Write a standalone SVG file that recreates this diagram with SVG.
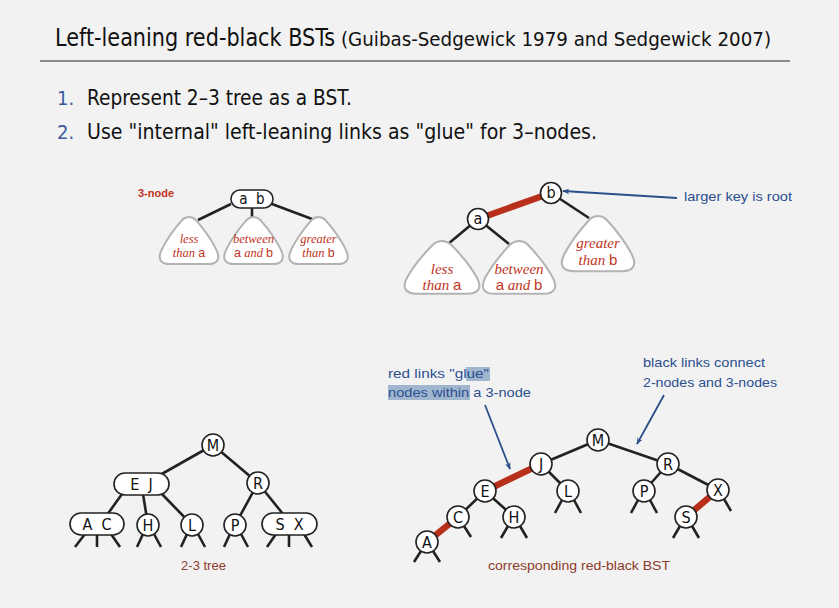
<svg xmlns="http://www.w3.org/2000/svg" width="839" height="608" viewBox="0 0 839 608">
<style>
.bg{fill:#f2f2f2}
.hd{font-family:"DejaVu Sans Condensed","Liberation Sans Narrow","Liberation Sans",sans-serif;fill:#111}
.num{font-family:"DejaVu Sans Condensed","Liberation Sans",sans-serif;fill:#3a5a9a}
.ann{font-family:"Liberation Sans","DejaVu Sans",sans-serif;font-size:13px;fill:#2c4f8f}
.cap{font-family:"Liberation Sans","DejaVu Sans",sans-serif;font-size:13px;fill:#8e3b2a;text-anchor:middle}
.nd circle,.nd rect{fill:#fff;stroke:#222;stroke-width:1.6}
.nd text{font-family:"DejaVu Sans Condensed","DejaVu Sans","Liberation Sans",sans-serif;font-size:16px;fill:#111;text-anchor:middle;white-space:pre}
.blk{stroke:#222;stroke-width:2.6;fill:none}
.red{stroke:#b8301a;stroke-width:6.5;fill:none}
.arr{stroke:#2b4f8a;stroke-width:1.8;fill:none;marker-end:url(#ah)}
.tri{fill:#fff;stroke:#b3b3b3;stroke-width:2}
.tt{font-family:"Liberation Serif","DejaVu Serif",serif;font-style:italic;fill:#c0341e;text-anchor:middle}
.ts{font-family:"Liberation Sans","DejaVu Sans",sans-serif;font-style:normal}
.hl{fill:#9fb6ce}
</style>
<defs>
<marker id="ah" viewBox="0 0 10 10" refX="9" refY="5" markerWidth="7" markerHeight="7" orient="auto" markerUnits="userSpaceOnUse">
<path d="M0,1 L10,5 L0,9 L3,5 Z" fill="#2b4f8a"/>
</marker>
<path id="tp" vector-effect="non-scaling-stroke" d="M-7,3 C-3,-1 3,-1 7,3 C15,12 23,23 28,33 C33,43 29,48 20,48 L-20,48 C-29,48 -33,43 -28,33 C-23,23 -15,12 -7,3 Z"/>
</defs>
<rect class="bg" x="0" y="0" width="839" height="608"/>

<g id="title">
<text class="hd" x="55" y="46" font-size="24" textLength="280" lengthAdjust="spacingAndGlyphs">Left-leaning red-black BSTs</text>
<text class="hd" x="341" y="46" font-size="19" textLength="430" lengthAdjust="spacingAndGlyphs">(Guibas-Sedgewick 1979 and Sedgewick 2007)</text>
<line x1="40" y1="61" x2="790" y2="61" stroke="#222" stroke-width="1.2"/>
</g>
<g id="list">
<text class="num" x="57" y="105" font-size="20">1.</text>
<text class="hd" x="87" y="105" font-size="20.5" textLength="265" lengthAdjust="spacingAndGlyphs">Represent 2–3 tree as a BST.</text>
<text class="num" x="57" y="139" font-size="20">2.</text>
<text class="hd" x="87" y="139" font-size="20.5" textLength="510" lengthAdjust="spacingAndGlyphs">Use "internal" left-leaning links as "glue" for 3–nodes.</text>
</g>

<g id="connectors">
<line class="blk" x1="231" y1="204" x2="198" y2="220"/>
<line class="blk" x1="252" y1="208" x2="252" y2="218"/>
<line class="blk" x1="272" y1="204" x2="312" y2="219"/>
<line class="blk" x1="478" y1="219" x2="448" y2="244"/>
<line class="blk" x1="478" y1="219" x2="509" y2="244"/>
<line class="blk" x1="551" y1="193" x2="589" y2="218"/>
<line class="red" x1="478" y1="219" x2="551" y2="193"/>
<line class="blk" x1="213" y1="445" x2="160" y2="475"/>
<line class="blk" x1="213" y1="445" x2="258" y2="483"/>
<line class="blk" x1="122" y1="494" x2="107" y2="515"/>
<line class="blk" x1="143" y1="494" x2="148" y2="525"/>
<line class="blk" x1="160" y1="492" x2="192" y2="525"/>
<line class="blk" x1="258" y1="483" x2="235" y2="525"/>
<line class="blk" x1="258" y1="483" x2="283" y2="514"/>
<path class="blk" d="M85,534 L75,547 M97,534 L97,547 M111,534 L120,547"/>
<path class="blk" d="M143,534 L137,547 M154,534 L161,547"/>
<path class="blk" d="M187,534 L181,547 M198,534 L205,547"/>
<path class="blk" d="M230,534 L224,547 M241,534 L248,547"/>
<path class="blk" d="M276,534 L267,547 M289,534 L289,547 M304,534 L312,547"/>
<line class="blk" x1="598" y1="440" x2="541" y2="464"/>
<line class="blk" x1="598" y1="440" x2="668" y2="464"/>
<line class="blk" x1="541" y1="464" x2="568" y2="491"/>
<line class="blk" x1="485" y1="491" x2="458" y2="517"/>
<line class="blk" x1="485" y1="491" x2="514" y2="517"/>
<line class="blk" x1="668" y1="464" x2="644" y2="491"/>
<line class="blk" x1="668" y1="464" x2="718" y2="490"/>
<line class="red" x1="541" y1="464" x2="485" y2="491"/>
<line class="red" x1="458" y1="517" x2="427" y2="542"/>
<line class="red" x1="718" y1="490" x2="686" y2="517"/>
<path class="blk" d="M421,551 L414,562 M433,551 L440,562"/>
<path class="blk" d="M464,526 L471,537"/>
<path class="blk" d="M508,526 L501,538 M520,526 L527,538"/>
<path class="blk" d="M562,500 L555,513 M574,500 L581,513"/>
<path class="blk" d="M638,500 L631,513 M650,500 L657,513"/>
<path class="blk" d="M680,526 L673,538 M692,526 L699,538"/>
<path class="blk" d="M724,499 L731,511"/>
<line class="arr" x1="677" y1="198" x2="563" y2="191"/>
<line class="arr" x1="485" y1="405" x2="510" y2="469"/>
<line class="arr" x1="664" y1="395" x2="637" y2="444"/>
</g>

<g id="label-3node"><text x="138" y="197" font-family="Liberation Sans,DejaVu Sans,sans-serif" font-size="11" font-weight="bold" fill="#c0341e">3-node</text></g>

<g id="node-ab" class="nd"><rect x="231" y="190" width="42" height="18" rx="9"/><text x="252" y="204" style="font-size:15px" xml:space="preserve">a  b</text></g>

<g id="tri-less-small"><use href="#tp" class="tri" transform="translate(189,217) scale(0.97,0.98)"/>
<text class="tt" x="189" y="243" font-size="12.5">less</text><text class="tt" x="189" y="257" font-size="12.5">than <tspan class="ts">a</tspan></text></g>
<g id="tri-between-small"><use href="#tp" class="tri" transform="translate(253.5,217) scale(0.97,0.98)"/>
<text class="tt" x="253.5" y="243" font-size="12.5">between</text><text class="tt" x="253.5" y="257" font-size="12.5"><tspan class="ts">a</tspan> and <tspan class="ts">b</tspan></text></g>
<g id="tri-greater-small"><use href="#tp" class="tri" transform="translate(318.5,217) scale(0.97,0.98)"/>
<text class="tt" x="318.5" y="243" font-size="12.5">greater</text><text class="tt" x="318.5" y="257" font-size="12.5">than <tspan class="ts">b</tspan></text></g>

<g id="tri-less-big"><use href="#tp" class="tri" transform="translate(442,241) scale(1.24,1.1)"/>
<text class="tt" x="442" y="274" font-size="15">less</text><text class="tt" x="442" y="290" font-size="15">than <tspan class="ts">a</tspan></text></g>
<g id="tri-between-big"><use href="#tp" class="tri" transform="translate(519,241) scale(1.2,1.1)"/>
<text class="tt" x="519" y="274" font-size="15">between</text><text class="tt" x="519" y="290" font-size="15"><tspan class="ts">a</tspan> and <tspan class="ts">b</tspan></text></g>
<g id="tri-greater-big"><use href="#tp" class="tri" transform="translate(598,216) scale(1.2,1.15)"/>
<text class="tt" x="598" y="248" font-size="15">greater</text><text class="tt" x="598" y="265" font-size="15">than <tspan class="ts">b</tspan></text></g>

<g id="node-a-top" class="nd"><circle cx="478" cy="219" r="10.5"/><text x="478" y="224">a</text></g>
<g id="node-b-top" class="nd"><circle cx="551" cy="193" r="10.5"/><text x="551" y="198">b</text></g>

<g id="label-root"><text class="ann" x="684" y="201" textLength="108" lengthAdjust="spacingAndGlyphs">larger key is root</text></g>

<g id="t23-M" class="nd"><circle cx="213" cy="445" r="11"/><text x="213" y="450.5">M</text></g>
<g id="t23-EJ" class="nd"><rect x="114" y="473" width="55" height="22" rx="11"/><text x="141.5" y="489.5" xml:space="preserve">E  J</text></g>
<g id="t23-R" class="nd"><circle cx="258" cy="483" r="11"/><text x="258" y="488.5">R</text></g>
<g id="t23-AC" class="nd"><rect x="70" y="513" width="54" height="22" rx="11"/><text x="97" y="529.5" xml:space="preserve">A  C</text></g>
<g id="t23-H" class="nd"><circle cx="148" cy="525" r="11"/><text x="148" y="530.5">H</text></g>
<g id="t23-L" class="nd"><circle cx="192" cy="525" r="11"/><text x="192" y="530.5">L</text></g>
<g id="t23-P" class="nd"><circle cx="235" cy="525" r="11"/><text x="235" y="530.5">P</text></g>
<g id="t23-SX" class="nd"><rect x="262" y="513" width="55" height="22" rx="11"/><text x="289.5" y="529.5" xml:space="preserve">S  X</text></g>
<g id="cap-23"><text class="cap" x="203.5" y="570">2-3 tree</text></g>

<g id="rb-M" class="nd"><circle cx="598" cy="440" r="11"/><text x="598" y="445.5">M</text></g>
<g id="rb-J" class="nd"><circle cx="541" cy="464" r="11"/><text x="541" y="469.5">J</text></g>
<g id="rb-R" class="nd"><circle cx="668" cy="464" r="11"/><text x="668" y="469.5">R</text></g>
<g id="rb-E" class="nd"><circle cx="485" cy="491" r="11"/><text x="485" y="496.5">E</text></g>
<g id="rb-L" class="nd"><circle cx="568" cy="491" r="11"/><text x="568" y="496.5">L</text></g>
<g id="rb-P" class="nd"><circle cx="644" cy="491" r="11"/><text x="644" y="496.5">P</text></g>
<g id="rb-X" class="nd"><circle cx="718" cy="490" r="11"/><text x="718" y="495.5">X</text></g>
<g id="rb-C" class="nd"><circle cx="458" cy="517" r="11"/><text x="458" y="522.5">C</text></g>
<g id="rb-H" class="nd"><circle cx="514" cy="517" r="11"/><text x="514" y="522.5">H</text></g>
<g id="rb-S" class="nd"><circle cx="686" cy="517" r="11"/><text x="686" y="522.5">S</text></g>
<g id="rb-A" class="nd"><circle cx="427" cy="542" r="11"/><text x="427" y="547.5">A</text></g>
<g id="cap-rb"><text class="cap" x="579" y="570" textLength="182" lengthAdjust="spacingAndGlyphs">corresponding red-black BST</text></g>

<g id="label-red">
<rect class="hl" x="466" y="367" width="24" height="14"/>
<rect class="hl" x="388" y="385" width="82" height="15"/>
<text class="ann" x="388" y="378" textLength="101" lengthAdjust="spacingAndGlyphs">red links "glue"</text>
<text class="ann" x="388" y="397" textLength="143" lengthAdjust="spacingAndGlyphs">nodes within a 3-node</text>
</g>
<g id="label-black">
<text class="ann" x="643" y="367" textLength="122" lengthAdjust="spacingAndGlyphs">black links connect</text>
<text class="ann" x="643" y="387" textLength="134" lengthAdjust="spacingAndGlyphs">2-nodes and 3-nodes</text>
</g>
</svg>
